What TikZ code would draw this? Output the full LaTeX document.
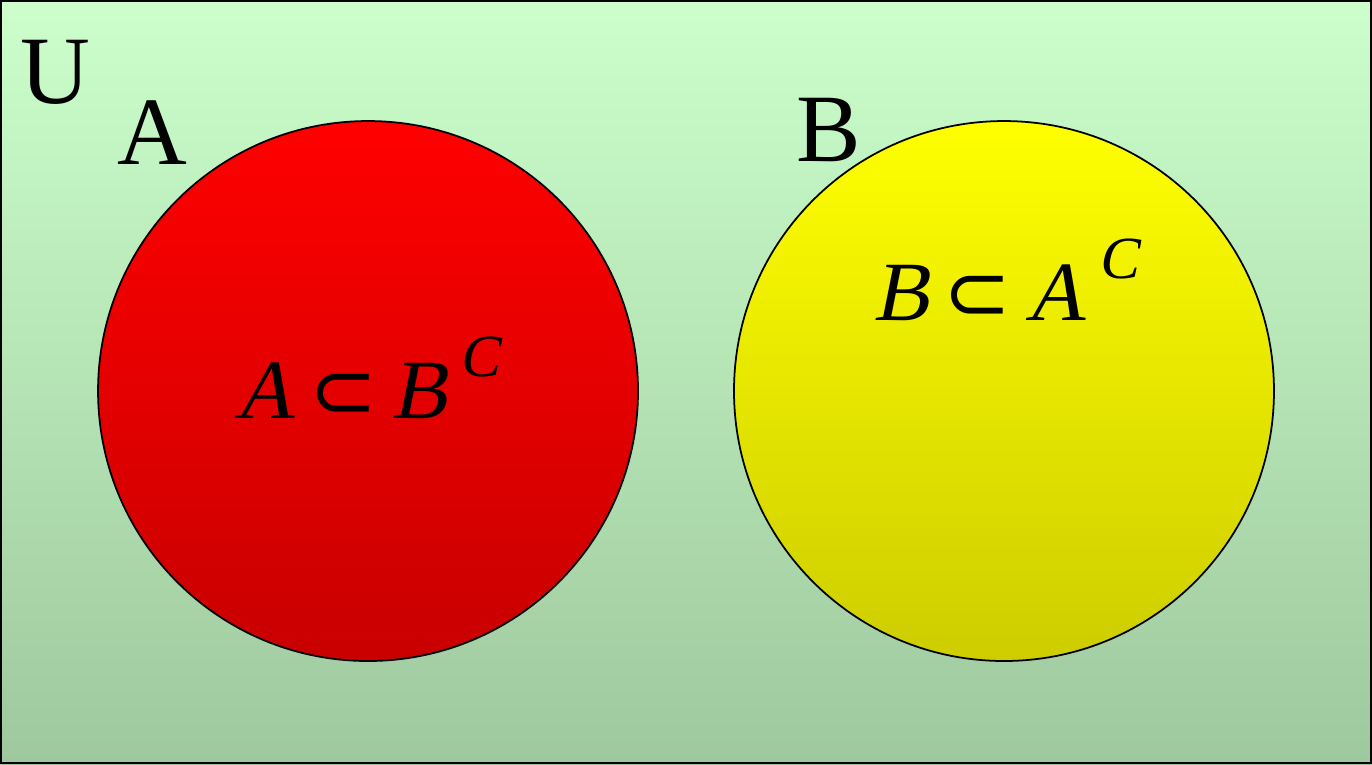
\documentclass[tikz,border=0pt]{standalone}
\usepackage{fontspec}
\setmainfont{Liberation Serif}
\newfontfamily\symfont{DejaVu Sans}
\newfontfamily\slantfont[FakeSlant=0.2]{Liberation Serif}
\definecolor{ubgtop}{RGB}{204,255,204}
\definecolor{ubgbot}{RGB}{158,200,158}
\definecolor{redtop}{RGB}{255,0,0}
\definecolor{redbot}{RGB}{200,0,0}
\definecolor{yeltop}{RGB}{255,255,0}
\definecolor{yelbot}{RGB}{205,205,0}
\newcommand{\setlbl}[1]{\fontsize{27.5}{30}\selectfont #1}
\newcommand{\relsub}[2]{\fontsize{24}{28}\selectfont{\slantfont #1}\,{\symfont\fontsize{23}{26}\selectfont ⊂}\,{\slantfont #2}}
\newcommand{\supC}{\hspace{3.5pt}\raisebox{12pt}{\fontsize{17}{19}\selectfont\slantfont C}}
\begin{document}
\begin{tikzpicture}[x=1cm, y=1cm,
  setname/.style={inner sep=0pt, font=\setlbl},
  relname/.style={inner sep=0pt}]
  % Universe U (shaded rectangle)
  \shade[top color=ubgtop, bottom color=ubgbot] (0,0) rectangle (13.72,7.64);
  \draw[line width=0.6pt] (0.01,0.01) rectangle (13.71,7.63);
  \node[setname] (U) at (0.55,6.92) {U};
  % Set A (red disc)
  \shade[top color=redtop, bottom color=redbot] (3.68,3.73) circle (2.70);
  \draw[line width=0.5pt] (3.68,3.73) circle (2.70);
  \node[setname] (A) at (1.52,6.31) {A};
  \node[relname] (AinBc) at (3.67,3.86) {\relsub{A}{B}\supC};
  % Set B (yellow disc)
  \shade[top color=yeltop, bottom color=yelbot] (10.04,3.73) circle (2.70);
  \draw[line width=0.5pt] (10.04,3.73) circle (2.70);
  \node[setname] (B) at (8.29,6.34) {B};
  \node[relname] (BinAc) at (10.06,4.84) {\relsub{B}{A}\supC};
\end{tikzpicture}
\end{document}
